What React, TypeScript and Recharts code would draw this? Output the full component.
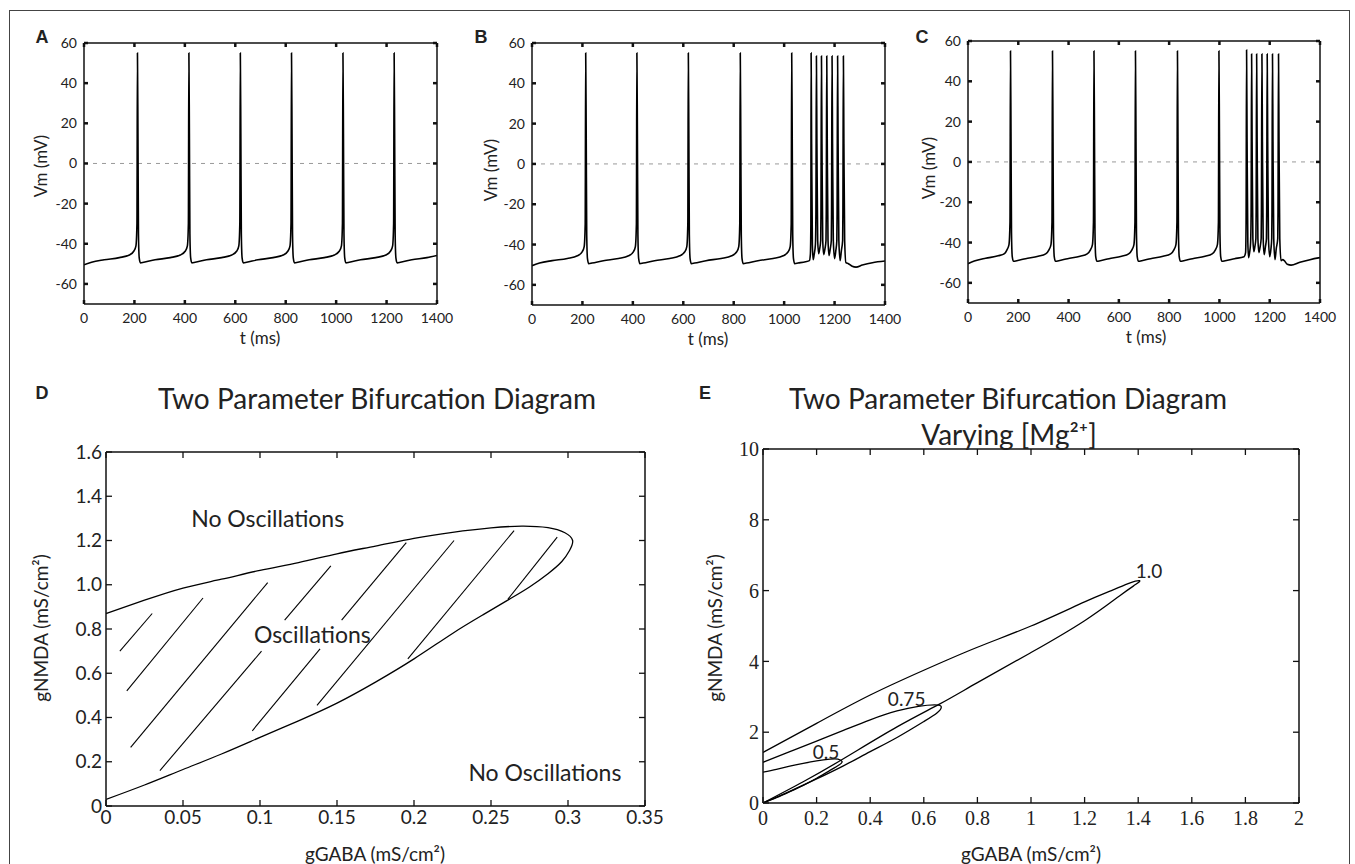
import React from 'react';
import { LineChart, Line, XAxis, YAxis, ReferenceLine, ReferenceDot } from 'recharts';

// ---- panels A-C : membrane potential traces, [t (ms), Vm (mV)] ----
const tTicks = [0, 200, 400, 600, 800, 1000, 1200, 1400];
const vTicks = [-60, -40, -20, 0, 20, 40, 60];

const traceA: [number, number][] = [
  [0, -50.5], [30, -49.2], [80, -48], [140, -46.9], [180, -45.6], [198, -43.6], [206, -41], [210, -30], [212, 55], [214, 15], [216, -35], [219, -47], [224, -49.5], [237, -49.2], [282, -48], [342, -46.9], [382, -45.6],
  [402, -43.6], [410, -41], [414, -30], [416, 55], [418, 15], [420, -35], [423, -47], [428, -49.5], [441, -49.2], [486, -48], [546, -46.9], [586, -45.6],
  [606, -43.6], [614, -41], [618, -30], [620, 55], [622, 15], [624, -35], [627, -47], [632, -49.5], [645, -49.2], [690, -48], [750, -46.9], [790, -45.6],
  [809, -43.6], [817, -41], [821, -30], [823, 55], [825, 15], [827, -35], [830, -47], [835, -49.5], [848, -49.2], [893, -48], [953, -46.9], [993, -45.6],
  [1013, -43.6], [1021, -41], [1025, -30], [1027, 55], [1029, 15], [1031, -35], [1034, -47], [1039, -49.5], [1052, -49.2], [1097, -48], [1157, -46.9], [1197, -45.6],
  [1216, -43.6], [1224, -41], [1228, -30], [1230, 55], [1232, 15], [1234, -35], [1237, -47], [1242, -49.5], [1255, -49.2], [1300, -48], [1360, -46.9], [1400, -45.8],
];

const traceB: [number, number][] = [
  [0, -50.5], [30, -49.2], [80, -48], [140, -46.9], [180, -45.6], [199, -43.6], [207, -41], [211, -30], [213, 55], [215, 15], [217, -35], [220, -47], [225, -49.5], [238, -49.2], [283, -48], [343, -46.9], [383, -45.6],
  [402, -43.6], [410, -41], [414, -30], [416, 55], [418, 15], [420, -35], [423, -47], [428, -49.5], [441, -49.2], [486, -48], [546, -46.9], [586, -45.6],
  [606, -43.6], [614, -41], [618, -30], [620, 55], [622, 15], [624, -35], [627, -47], [632, -49.5], [645, -49.2], [690, -48], [750, -46.9], [792, -45.6],
  [812, -43.6], [820, -41], [824, -30], [826, 55], [828, 15], [830, -35], [833, -47], [838, -49.5], [851, -49.2], [896, -48], [956, -46.9], [996, -45.6],
  [1016, -43.6], [1024, -41], [1028, -30], [1030, 55], [1032, 15], [1034, -35], [1037, -47], [1042, -49.5], [1055, -49.2], [1085, -48.5], [1100, -48],
  [1104, -45], [1106, -30], [1107, 55], [1109, 10], [1112, -40], [1115, -47.5], [1119, -45], [1124, -40], [1126, -25],
  [1128, 53.5], [1130, 10], [1133, -38], [1137, -44.5], [1141, -42], [1145, -38], [1146, -25],
  [1148, 53.5], [1150, 10], [1153, -38], [1157, -45], [1162, -42], [1166, -38], [1167, -25],
  [1169, 53.5], [1171, 10], [1174, -38], [1178, -45.5], [1183, -42], [1187, -38], [1188, -25],
  [1190, 53.5], [1192, 10], [1195, -38], [1200, -47], [1205, -43], [1209, -38], [1210, -25],
  [1212, 53.5], [1214, 10], [1217, -38], [1222, -48], [1227, -43], [1232, -38], [1233, -25],
  [1235, 53.5], [1237, 10], [1240, -38], [1245, -49], [1255, -49.5], [1270, -50.8], [1285, -51.2], [1310, -50.2], [1350, -49], [1400, -48.2],
];

const traceC: [number, number][] = [
  [0, -50.5], [25, -49.2], [70, -47.8], [120, -46.6], [145, -45.5], [155, -43.6], [163, -41], [167, -30], [169, 55], [171, 15], [173, -35], [176, -47], [181, -49.3], [194, -49], [229, -48], [279, -46.8], [309, -45.6],
  [322, -43.6], [330, -41], [334, -30], [336, 55], [338, 15], [340, -35], [343, -47], [348, -49.3], [361, -49], [396, -48], [446, -46.8], [474, -45.6],
  [487, -43.6], [495, -41], [499, -30], [501, 55], [503, 15], [505, -35], [508, -47], [513, -49.3], [526, -49], [561, -48], [611, -46.8], [639, -45.6],
  [652, -43.6], [660, -41], [664, -30], [666, 55], [668, 15], [670, -35], [673, -47], [678, -49.3], [691, -49], [726, -48], [776, -46.8], [806, -45.6],
  [819, -43.6], [827, -41], [831, -30], [833, 55], [835, 15], [837, -35], [840, -47], [845, -49.3], [858, -49], [893, -48], [943, -46.8], [971, -45.6],
  [984, -43.6], [992, -41], [996, -30], [998, 55], [1000, 15], [1002, -35], [1005, -47], [1010, -49.3], [1023, -49], [1060, -48], [1098, -47],
  [1104, -45], [1106, -30], [1108, 55.5], [1110, 10], [1113, -40], [1116, -47.5], [1120, -45], [1124, -40], [1126, -25],
  [1128, 53.5], [1130, 10], [1133, -38], [1137, -44.5], [1141, -42], [1145, -38], [1146, -25],
  [1148, 53.5], [1150, 10], [1153, -38], [1157, -45], [1162, -42], [1166, -38], [1167, -25],
  [1169, 53.5], [1171, 10], [1174, -38], [1178, -46], [1183, -42], [1187, -38], [1188, -25],
  [1190, 53.5], [1192, 10], [1195, -38], [1200, -47], [1205, -43], [1208, -38], [1209, -25],
  [1211, 53.5], [1213, 10], [1216, -38], [1221, -48.5], [1226, -43], [1232, -38], [1233, -25],
  [1235, 53.5], [1237, 10], [1240, -38], [1245, -49], [1252, -48.5], [1258, -49], [1270, -50.8], [1285, -51.2], [1320, -49.8], [1360, -48.5], [1400, -47.5],
];

// ---- panel D : two-parameter bifurcation boundary [gGABA, gNMDA] ----
const dXTicks = [0, 0.05, 0.1, 0.15, 0.2, 0.25, 0.3, 0.35];
const dYTicks = [0, 0.2, 0.4, 0.6, 0.8, 1.0, 1.2, 1.4, 1.6];

const boundaryD: [number, number][] = [
  [0, 0.87], [0.025, 0.93], [0.05, 0.985], [0.075, 1.025], [0.1, 1.065], [0.125, 1.1], [0.15, 1.14], [0.175, 1.175], [0.2, 1.21],
  [0.225, 1.237], [0.25, 1.257], [0.27, 1.265], [0.287, 1.258], [0.298, 1.235], [0.303, 1.2], [0.301, 1.155], [0.296, 1.105],
  [0.287, 1.05], [0.275, 0.99], [0.262, 0.935], [0.245, 0.865], [0.225, 0.78], [0.2, 0.665], [0.175, 0.56], [0.15, 0.465],
  [0.125, 0.385], [0.1, 0.31], [0.075, 0.235], [0.05, 0.165], [0.025, 0.095], [0, 0.03],
];

const hatchFrom: [number, number][] = [
  [0.009, 0.7], [0.0135, 0.52], [0.016, 0.265], [0.035, 0.16], [0.095, 0.34],
  [0.116, 0.84], [0.137, 0.455], [0.153, 0.84], [0.196, 0.665], [0.261, 0.935],
];
const hatchTo: [number, number][] = [
  [0.03, 0.87], [0.063, 0.94], [0.105, 1.01], [0.101, 0.7], [0.139, 0.71],
  [0.146, 1.085], [0.226, 1.2], [0.195, 1.19], [0.265, 1.245], [0.293, 1.215],
];

const regionLabels = [
  { text: 'No Oscillations', x: 0.105, y: 1.3 },
  { text: 'Oscillations', x: 0.134, y: 0.774 },
  { text: 'No Oscillations', x: 0.285, y: 0.15 },
];

// ---- panel E : boundaries for three [Mg2+] values ----
const eXTicks = [0, 0.2, 0.4, 0.6, 0.8, 1, 1.2, 1.4, 1.6, 1.8, 2];
const eYTicks = [0, 2, 4, 6, 8, 10];

const mg10: [number, number][] = [
  [0, 1.43], [0.2, 2.25], [0.4, 3.05], [0.6, 3.75], [0.8, 4.4], [1.0, 5.0], [1.2, 5.68], [1.3, 6.0], [1.37, 6.22], [1.405, 6.28],
  [1.39, 6.17], [1.33, 5.85], [1.2, 5.15], [1.0, 4.25], [0.8, 3.4], [0.66, 2.8], [0.5, 2.15], [0.3, 1.25], [0.15, 0.6], [0, 0],
];
const mg075: [number, number][] = [
  [0, 1.15], [0.1, 1.45], [0.2, 1.75], [0.3, 2.05], [0.4, 2.35], [0.5, 2.6], [0.58, 2.73], [0.64, 2.77], [0.665, 2.72],
  [0.65, 2.55], [0.6, 2.3], [0.5, 1.85], [0.4, 1.45], [0.3, 1.05], [0.2, 0.68], [0.1, 0.33], [0, 0],
];
const mg05: [number, number][] = [
  [0, 0.87], [0.05, 0.95], [0.1, 1.04], [0.15, 1.12], [0.2, 1.19], [0.25, 1.24], [0.28, 1.24], [0.295, 1.17],
  [0.285, 1.08], [0.25, 0.92], [0.2, 0.7], [0.15, 0.5], [0.1, 0.32], [0.05, 0.15], [0, 0],
];
const mgLoops = [mg10, mg075, mg05];
const mgLabels = [
  { text: '1.0', x: 1.44, y: 6.56 },
  { text: '0.75', x: 0.536, y: 2.93 },
  { text: '0.5', x: 0.235, y: 1.43 },
];

const sans = 'Lato, "Open Sans", sans-serif';
const serif = '"Liberation Serif", "DejaVu Serif", serif';
const ink = '#222';

const toXY = (pts: [number, number][]) => pts.map(([x, y]) => ({ x, y }));

type Box = { left: number; top: number; width: number; height: number; pl: number; pr: number; pt: number; pb: number };

// matlab style closed box: bottom/left axes with labels, top/right mirrored ticks only
const boxAxes = (
  xDomain: [number, number], yDomain: [number, number], xTicks: number[], yTicks: number[],
  xH: number, yW: number, font: any, xFmt: (v: number) => string, yFmt: (v: number) => string,
  tickLine: any, tickLen: number, xMargin: number, yMargin: number, axisW: number,
) => {
  const axisLine = { stroke: '#111', strokeWidth: axisW };
  const blank = () => '';
  return [
    <XAxis key="xb" xAxisId="b" dataKey="x" type="number" domain={xDomain} ticks={xTicks} interval={0} height={xH}
      allowDataOverflow axisLine={axisLine} tickLine={tickLine} tickSize={-tickLen} tickMargin={xMargin}
      tick={font} tickFormatter={xFmt} />,
    <XAxis key="xt" xAxisId="t" dataKey="x" orientation="top" type="number" domain={xDomain} ticks={xTicks} interval={0} height={1}
      allowDataOverflow axisLine={axisLine} tickLine={tickLine} tickSize={-tickLen} tickFormatter={blank} />,
    <YAxis key="yl" yAxisId="l" dataKey="y" type="number" domain={yDomain} ticks={yTicks} interval={0} width={yW}
      allowDataOverflow axisLine={axisLine} tickLine={tickLine} tickSize={-tickLen} tickMargin={yMargin}
      tick={font} tickFormatter={yFmt} />,
    <YAxis key="yr" yAxisId="r" dataKey="y" orientation="right" type="number" domain={yDomain} ticks={yTicks} interval={0} width={1}
      allowDataOverflow axisLine={axisLine} tickLine={tickLine} tickSize={-tickLen} tickFormatter={blank} />,
  ];
};

const boxMargin = (b: Box, yW: number, xH: number) => ({
  top: b.pt - 1, right: b.width - b.pr - 1, left: b.pl - yW, bottom: b.height - b.pb - xH,
});

const TracePanel = ({ trace, box }: { trace: [number, number][]; box: Box }) => {
  const yW = 50, xH = 30;
  const rows = toXY(trace);
  return (
    <div style={{ position: 'absolute', left: box.left, top: box.top }}>
      <LineChart width={box.width} height={box.height} data={rows} margin={boxMargin(box, yW, xH)}>
        {boxAxes([0, 1400], [-70, 60], tTicks, vTicks, xH, yW,
          { fontSize: 14, fill: ink, fontFamily: sans }, (v) => String(v), (v) => String(v),
          { stroke: '#111', strokeWidth: 2.5 }, 4, 13, 11, 1.5)}
        <ReferenceLine xAxisId="b" yAxisId="l" y={0} stroke="#999" strokeDasharray="4 5" strokeWidth={1} />
        <Line xAxisId="t" yAxisId="r" dataKey="y" stroke="none" dot={false} activeDot={false} isAnimationActive={false} />
        <Line xAxisId="b" yAxisId="l" dataKey="y" type="monotone" stroke="#000" strokeWidth={1.6} dot={false} isAnimationActive={false} />
      </LineChart>
    </div>
  );
};

const Txt = ({ x, y, size, children, rotate, bold, family }: any) => (
  <div style={{
    position: 'absolute', left: x, top: y, transform: `translate(-50%, -50%)${rotate ? ' rotate(-90deg)' : ''}`,
    whiteSpace: 'nowrap', fontSize: size, lineHeight: 1, color: ink, fontFamily: family || sans, fontWeight: bold ? 700 : 400,
  }}>{children}</div>
);

const letterFont = '"Liberation Sans", Arial, sans-serif';

const App = () => {
  const dBox: Box = { left: 0, top: 420, width: 680, height: 444, pl: 106, pr: 645, pt: 32, pb: 386 };
  const eBox: Box = { left: 680, top: 420, width: 675, height: 444, pl: 83, pr: 619, pt: 29, pb: 383 };
  const yW = 60, xH = 40;
  const thinTick = { stroke: '#111', strokeWidth: 1.3 };
  return (
    <div style={{ position: 'absolute', left: 0, top: 0, width: 1355, height: 864, overflow: 'hidden', background: '#fff' }}>
      <div style={{ position: 'absolute', left: 9, top: 10, width: 1341, height: 900, border: '1.5px solid #444', boxSizing: 'border-box' }} />

      <TracePanel trace={traceA} box={{ left: 0, top: 0, width: 460, height: 340, pl: 84, pr: 437, pt: 43, pb: 304 }} />
      <TracePanel trace={traceB} box={{ left: 460, top: 0, width: 450, height: 340, pl: 72, pr: 425, pt: 43, pb: 305 }} />
      <TracePanel trace={traceC} box={{ left: 905, top: 0, width: 450, height: 340, pl: 63, pr: 415, pt: 41, pb: 303 }} />

      <div style={{ position: 'absolute', left: dBox.left, top: dBox.top }}>
        <LineChart width={dBox.width} height={dBox.height} margin={boxMargin(dBox, yW, xH)}>
          {boxAxes([0, 0.35], [0, 1.6], dXTicks, dYTicks, xH, yW,
            { fontSize: 19, fill: ink, fontFamily: sans }, (v) => String(+v.toFixed(2)), (v) => (v === 0 ? '0' : v.toFixed(1)),
            thinTick, 6, 11, 10, 1.5)}
          <Line xAxisId="t" yAxisId="r" data={toXY(boundaryD)} dataKey="y" stroke="none" dot={false} activeDot={false} isAnimationActive={false} />
          <Line xAxisId="b" yAxisId="l" data={toXY(boundaryD)} dataKey="y" type="natural" stroke="#000" strokeWidth={1.3} dot={false} isAnimationActive={false} />
          {hatchFrom.map((p, i) => (
            <Line key={`h${i}`} xAxisId="b" yAxisId="l" data={toXY([p, hatchTo[i]])} dataKey="y" type="linear"
              stroke="#000" strokeWidth={1.1} dot={false} isAnimationActive={false} />
          ))}
          {regionLabels.map((r, i) => (
            <ReferenceDot key={`r${i}`} xAxisId="b" yAxisId="l" x={r.x} y={r.y} r={1} fill="none" stroke="none"
              label={{ value: r.text, position: 'center', fontSize: 23, fill: ink, fontFamily: sans }} />
          ))}
        </LineChart>
      </div>

      <div style={{ position: 'absolute', left: eBox.left, top: eBox.top }}>
        <LineChart width={eBox.width} height={eBox.height} margin={boxMargin(eBox, yW, xH)}>
          {boxAxes([0, 2], [0, 10], eXTicks, eYTicks, xH, yW,
            { fontSize: 20, fill: ink, fontFamily: serif }, (v) => String(+v.toFixed(1)), (v) => String(v),
            thinTick, 6, 14, 10, 1.5)}
          <Line xAxisId="t" yAxisId="r" data={toXY(mg10)} dataKey="y" stroke="none" dot={false} activeDot={false} isAnimationActive={false} />
          {mgLoops.map((loop, i) => (
            <Line key={`m${i}`} xAxisId="b" yAxisId="l" data={toXY(loop)} dataKey="y" type="natural"
              stroke="#000" strokeWidth={1.3} dot={false} isAnimationActive={false} />
          ))}
          {mgLabels.map((r, i) => (
            <ReferenceDot key={`l${i}`} xAxisId="b" yAxisId="l" x={r.x} y={r.y} r={1} fill="none" stroke="none"
              label={{ value: r.text, position: 'center', fontSize: 19, fill: ink, fontFamily: sans }} />
          ))}
        </LineChart>
      </div>

      <Txt x={42} y={37} size={18} bold family={letterFont}>A</Txt>
      <Txt x={481} y={37} size={18} bold family={letterFont}>B</Txt>
      <Txt x={922} y={37} size={18} bold family={letterFont}>C</Txt>
      <Txt x={42} y={393} size={18} bold family={letterFont}>D</Txt>
      <Txt x={705} y={393} size={18} bold family={letterFont}>E</Txt>

      <Txt x={40} y={166} size={17} rotate>Vm (mV)</Txt>
      <Txt x={490} y={170} size={17} rotate>Vm (mV)</Txt>
      <Txt x={928} y={168} size={17} rotate>Vm (mV)</Txt>
      <Txt x={260} y={337} size={17}>t (ms)</Txt>
      <Txt x={708} y={338} size={17}>t (ms)</Txt>
      <Txt x={1146} y={336} size={17}>t (ms)</Txt>

      <Txt x={377} y={398} size={28}>Two Parameter Bifurcation Diagram</Txt>
      <Txt x={1008} y={398} size={28}>Two Parameter Bifurcation Diagram</Txt>
      <Txt x={1009} y={434} size={28}>Varying [Mg²⁺]</Txt>

      <Txt x={40} y={628} size={19} rotate>gNMDA (mS/cm²)</Txt>
      <Txt x={375} y={853} size={19}>gGABA (mS/cm²)</Txt>
      <Txt x={714} y={628} size={19} rotate>gNMDA (mS/cm²)</Txt>
      <Txt x={1031} y={853} size={19}>gGABA (mS/cm²)</Txt>
    </div>
  );
};

export default App;
